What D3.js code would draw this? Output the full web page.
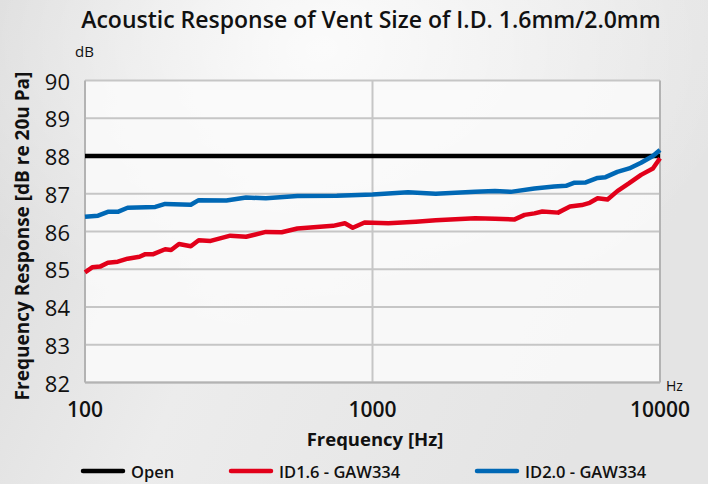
<!DOCTYPE html>
<html>
<head>
<meta charset="utf-8">
<script src="https://cdn.jsdelivr.net/npm/d3@7"></script>
<style>
  body { margin: 0; padding: 0; }
  svg { display: block; font-family: "Open Sans", "Noto Sans", sans-serif; }
</style>
</head>
<body>
<div id="chart"></div>
<script>
// dades llegides del grafic
const openFreq = [100, 10000];
const openDb = [88, 88];

const id16Freq = [100, 105.9, 112.8, 120.1, 130, 140.7, 154.7, 162.2, 172.8, 190, 199.3, 212.3, 233.4, 248.6, 273.5, 320.2, 363.4, 425.6, 483.1, 548.3, 729.1, 801.6, 853.7, 938.7, 1135, 1416, 1659, 2276, 2666, 3123, 3380, 3658, 3897, 4421, 4864, 5346, 5694, 6067, 6569, 7107, 7815, 8592, 9447, 10000];
const id16Db = [84.92, 85.05, 85.07, 85.17, 85.2, 85.28, 85.33, 85.4, 85.4, 85.53, 85.51, 85.67, 85.61, 85.77, 85.75, 85.89, 85.86, 85.99, 85.98, 86.08, 86.15, 86.22, 86.1, 86.24, 86.22, 86.26, 86.3, 86.35, 86.34, 86.32, 86.44, 86.48, 86.53, 86.5, 86.66, 86.7, 86.76, 86.88, 86.85, 87.07, 87.28, 87.5, 87.67, 87.94];

const id20Freq = [100, 111, 120.1, 130, 140.7, 175.6, 190, 233.4, 248.6, 310.3, 363.4, 425.6, 548.3, 751.6, 1000, 1329, 1659, 2276, 2666, 3026, 3658, 4285, 4710, 5017, 5518, 6067, 6465, 7107, 7815, 8592, 9447, 10000];
const id20Db = [86.39, 86.42, 86.52, 86.52, 86.63, 86.65, 86.73, 86.71, 86.83, 86.82, 86.9, 86.88, 86.94, 86.95, 86.98, 87.04, 87.0, 87.05, 87.07, 87.05, 87.14, 87.19, 87.21, 87.29, 87.3, 87.42, 87.44, 87.58, 87.67, 87.82, 88.0, 88.16];

const yTicks = [82, 83, 84, 85, 86, 87, 88, 89, 90];
const xTicks = [100, 1000, 10000];

const series = [
    { name: "Open", freq: openFreq, db: openDb, color: "#000000" },
    { name: "ID1.6 - GAW334", freq: id16Freq, db: id16Db, color: "#e2001a" },
    { name: "ID2.0 - GAW334", freq: id20Freq, db: id20Db, color: "#0068b5" }
];

const W = 708, H = 484;
const margin = { top: 80.5, right: 48, bottom: 101.5, left: 85 };
const width = W - margin.left - margin.right;
const height = H - margin.top - margin.bottom;

const root = d3.select("#chart").append("svg")
    .attr("width", W)
    .attr("height", H);

// fons gris tipus marbre
const defs = root.append("defs");
const grad = defs.append("linearGradient")
    .attr("id", "fons")
    .attr("x1", "0").attr("y1", "0").attr("x2", "1").attr("y2", "0.3");
grad.append("stop").attr("offset", "0%").attr("stop-color", "#d9d9d9");
grad.append("stop").attr("offset", "45%").attr("stop-color", "#ececec");
grad.append("stop").attr("offset", "100%").attr("stop-color", "#e4e4e4");
const glow = defs.append("radialGradient")
    .attr("id", "llum")
    .attr("cx", "0.45").attr("cy", "0.1").attr("r", "0.6");
glow.append("stop").attr("offset", "0%").attr("stop-color", "#ffffff").attr("stop-opacity", 0.8);
glow.append("stop").attr("offset", "100%").attr("stop-color", "#ffffff").attr("stop-opacity", 0);

root.append("rect").attr("width", W).attr("height", H).attr("fill", "url(#fons)");
root.append("rect").attr("width", W).attr("height", H).attr("fill", "url(#llum)");

const svg = root.append("g")
    .attr("transform", `translate(${margin.left}, ${margin.top})`);

// Escales
const x = d3.scaleLog().domain([100, 10000]).range([0, width]);
const y = d3.scaleLinear().domain([82, 90]).range([height, 0]);

// area del grafic
svg.append("rect")
    .attr("width", width)
    .attr("height", height)
    .attr("fill", "#fafafa")
    .attr("opacity", 0.85);

// Graella horitzontal
svg.selectAll(".grid-y")
    .data(yTicks)
    .enter()
    .append("line")
        .attr("class", "grid-y")
        .attr("x1", 0).attr("x2", width)
        .attr("y1", d => y(d)).attr("y2", d => y(d))
        .attr("stroke", "#c6c6c6")
        .attr("stroke-width", 2);

// Graella vertical
svg.selectAll(".grid-x")
    .data(xTicks)
    .enter()
    .append("line")
        .attr("class", "grid-x")
        .attr("x1", d => x(d)).attr("x2", d => x(d))
        .attr("y1", 0).attr("y2", height)
        .attr("stroke", d => d === 1000 ? "#c6c6c6" : "#b3b3b3")
        .attr("stroke-width", 2);

svg.append("line")
    .attr("x1", 0).attr("x2", width)
    .attr("y1", height).attr("y2", height)
    .attr("stroke", "#b3b3b3")
    .attr("stroke-width", 2);

// Etiquetes eix Y
svg.selectAll(".tick-y")
    .data(yTicks)
    .enter()
    .append("text")
        .attr("class", "tick-y")
        .attr("x", -15)
        .attr("y", d => y(d))
        .attr("text-anchor", "end")
        .attr("dominant-baseline", "central")
        .style("font-size", "22px")
        .style("fill", "#111")
        .text(d => d);

// Etiquetes eix X
svg.selectAll(".tick-x")
    .data(xTicks)
    .enter()
    .append("text")
        .attr("class", "tick-x")
        .attr("x", d => x(d))
        .attr("y", height + 26)
        .attr("text-anchor", "middle")
        .attr("dominant-baseline", "central")
        .style("font-size", "21px")
        .style("font-weight", "600")
        .style("fill", "#111")
        .text(d => d);

// Linies
const line = d3.line()
    .x(d => x(d[0]))
    .y(d => y(d[1]));

svg.selectAll(".serie")
    .data(series)
    .enter()
    .append("path")
        .attr("class", "serie")
        .attr("d", s => line(s.freq.map((f, i) => [f, s.db[i]])))
        .attr("fill", "none")
        .attr("stroke", s => s.color)
        .attr("stroke-width", 4.5)
        .attr("stroke-linejoin", "round");

// unitats
svg.append("text")
    .attr("x", -10).attr("y", -24)
    .style("font-size", "15px").style("fill", "#111")
    .text("dB");
svg.append("text")
    .attr("x", width + 6).attr("y", height + 8)
    .style("font-size", "14px").style("fill", "#111")
    .text("Hz");

// Títol
root.append("text")
    .attr("x", 371).attr("y", 28)
    .attr("text-anchor", "middle")
    .style("font-size", "23px")
    .style("font-weight", "600")
    .style("fill", "#111")
    .text("Acoustic Response of Vent Size of I.D. 1.6mm/2.0mm");

// Títol eix X
root.append("text")
    .attr("x", 375).attr("y", 446)
    .attr("text-anchor", "middle")
    .style("font-size", "18.5px")
    .style("font-weight", "bold")
    .style("fill", "#111")
    .text("Frequency [Hz]");

// Títol eix Y
root.append("text")
    .attr("transform", "rotate(-90)")
    .attr("x", -236).attr("y", 29)
    .attr("text-anchor", "middle")
    .style("font-size", "19px")
    .style("font-weight", "bold")
    .style("fill", "#111")
    .text("Frequency Response [dB re 20u Pa]");

// Llegenda
const legX = [83, 231, 477];
const leg = root.selectAll(".leg")
    .data(series)
    .enter()
    .append("g")
        .attr("class", "leg")
        .attr("transform", (d, i) => `translate(${legX[i]}, 471)`);
leg.append("line")
    .attr("x1", 0).attr("x2", 40)
    .attr("stroke", d => d.color)
    .attr("stroke-width", 4.5)
    .attr("stroke-linecap", "round");
leg.append("text")
    .attr("x", 48)
    .attr("dominant-baseline", "central")
    .style("font-size", "16.5px")
    .style("font-weight", "600")
    .style("fill", "#111")
    .text(d => d.name);
</script>
</body>
</html>
